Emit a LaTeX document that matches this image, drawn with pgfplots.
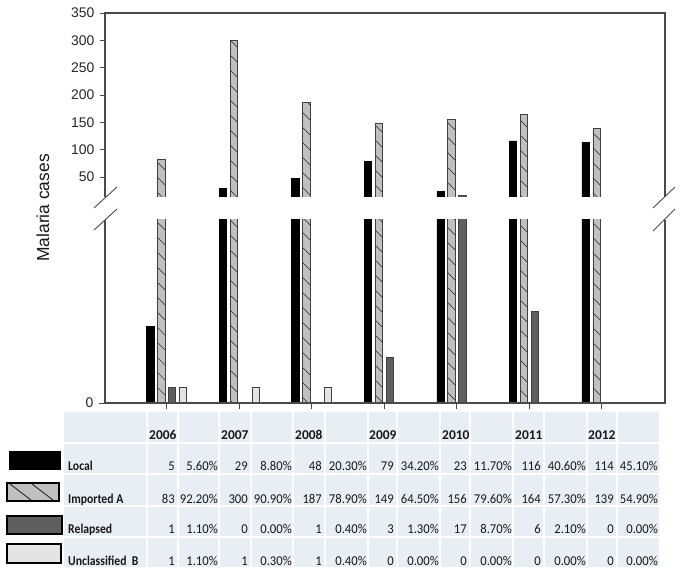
\documentclass[border=0pt]{standalone}
\usepackage{fontspec}
\setmainfont{Liberation Sans}
\newfontfamily\carlito{Carlito}
\usepackage{pgfplots}
\pgfplotsset{compat=1.18}
\usetikzlibrary{patterns}
\pgfdeclarepatternformonly{sparsenw}{\pgfqpoint{-1bp}{-1bp}}{\pgfqpoint{16bp}{16bp}}{\pgfqpoint{15bp}{15bp}}{\pgfsetlinewidth{0.7bp}\pgfpathmoveto{\pgfqpoint{0bp}{15bp}}\pgfpathlineto{\pgfqpoint{15bp}{0bp}}\pgfusepath{stroke}}
\definecolor{impfill}{HTML}{C0C0C0}
\definecolor{relfill}{HTML}{5F5F5F}
\definecolor{uncfill}{HTML}{E4E4E4}
\definecolor{axisc}{HTML}{4A4A4A}
\definecolor{tblbg}{HTML}{E9EDF4}
\pgfplotsset{
  mybars/.style={scale only axis, width=560bp, xmin=-0.85, xmax=6.87,
    ybar, bar width=0.1, axis line style={draw=none},
    tick style={axisc, line width=0.8bp}, tick align=outside, major tick length=5bp,
    /pgf/number format/assume math mode=true,
    tick label style={font=\fontsize{14}{16}\selectfont, text=black!85},
    yticklabel style={xshift=-2bp},
    anchor=south west},
  loc/.style={fill=black, draw=black, line width=0.6bp, bar shift=-0.225},
  imp/.style={fill=impfill, draw=black!75, line width=0.6bp, bar shift=-0.075, postaction={pattern=sparsenw, pattern color=black!75}},
  rel/.style={fill=relfill, draw=black!75, line width=0.6bp, bar shift=0.075},
  unc/.style={fill=uncfill, draw=black!75, line width=0.6bp, bar shift=0.225},
}
% values as drawn in the chart (the 2008 relapsed bar is not drawn there)
\pgfplotstableread{
x local imported relapsed unclassified
0 5 83 1 1
1 29 300 0 1
2 48 187 0 1
3 79 149 3 0
4 23 156 17 0
5 116 164 6 0
6 114 139 0 0
}\cases
\newcommand{\num}[1]{\scalebox{0.94}[1]{#1}}
\newcommand{\lab}[1]{\scalebox{0.87}[1]{#1}}
\begin{document}
\begin{tikzpicture}
\useasboundingbox (0,0) rectangle (683bp,575bp);
% upper axis
\begin{axis}[mybars, at={(105bp,378bp)}, height=184bp, ymin=13.4, ymax=350,
  ytick={50,100,...,350}, xtick=\empty, ytick pos=left,
  y filter/.expression={y<13.4 ? nan : y}, unbounded coords=discard]
\addplot[loc] table[x=x,y=local]{\cases};
\addplot[imp] table[x=x,y=imported]{\cases};
\addplot[rel] table[x=x,y=relapsed]{\cases};
\addplot[unc] table[x=x,y=unclassified]{\cases};
\end{axis}
% lower axis
\begin{axis}[mybars, at={(105bp,172bp)}, height=183bp, ymin=0, ymax=12,
  ytick={0}, xtick={0,...,6}, xticklabels={}, xtick pos=left, ytick pos=left,
  major tick length=6bp, y filter/.expression={y==0 ? nan : y}, unbounded coords=discard]
\addplot[loc] table[x=x,y=local]{\cases};
\addplot[imp] table[x=x,y=imported]{\cases};
\addplot[rel] table[x=x,y=relapsed]{\cases};
\addplot[unc] table[x=x,y=unclassified]{\cases};
\end{axis}
\begin{scope}[x=1bp,y=1bp]
% frames
\draw[axisc, line width=1.1bp] (105,378) -- (105,562) -- (665,562) -- (665,378);
\draw[axisc, line width=1.1bp] (105,355) -- (105,172) -- (665,172) -- (665,355);
% break marks
\draw[axisc, line width=0.9bp] (94,367) -- (117,388);
\draw[axisc, line width=0.9bp] (94,345) -- (117,366);
\draw[axisc, line width=0.9bp] (653,367) -- (675,388);
\draw[axisc, line width=0.9bp] (653,344) -- (675,366);
% y label
\node[rotate=90, font=\fontsize{17.5}{20}\selectfont, text=black!90] at (43,367) {Malaria cases};
% legend swatches
\filldraw[fill=black, draw=black, line width=1.3bp] (10,106) rectangle (60,123);
\filldraw[fill=impfill, draw=black, line width=1.3bp] (7,74) rectangle (59,92);
\begin{scope}
\clip (7,74) rectangle (59,92);
\draw[black!80, line width=1bp] (10,91) -- (31,75);
\draw[black!80, line width=1bp] (32,91) -- (53,75);
\end{scope}
\filldraw[fill=relfill, draw=black, line width=1.3bp] (7,41) rectangle (62,59);
\filldraw[fill=uncfill, draw=black, line width=1.3bp] (7,12) rectangle (61,31);
% table
\fill[tblbg] (64,8) rectangle (659,163);
\foreach \x in {147,178,219,251,293,325,368,397,440,470,513,544,587,617}
  \draw[white, line width=1.5bp] (\x,8) -- (\x,163);
\foreach \y in {132,101,69,38}
  \draw[white, line width=1.5bp] (64,\y) -- (659,\y);
\begin{scope}[every node/.style={inner sep=0pt, font=\carlito\fontsize{13.5}{15}\selectfont, text=black!90}]
\foreach \xl/\yr in {149/2006,221/2007,295/2008,369/2009,442/2010,515/2011,588/2012}
  \node[anchor=base west, font=\carlito\bfseries\fontsize{13.5}{15}\selectfont] at (\xl,136) {\yr};
\node[anchor=base west, font=\carlito\bfseries\fontsize{13.5}{15}\selectfont] at (68,105) {\lab{Local}};
\node[anchor=base west, font=\carlito\bfseries\fontsize{13.5}{15}\selectfont] at (68,72) {\lab{Imported A}};
\node[anchor=base west, font=\carlito\bfseries\fontsize{13.5}{15}\selectfont] at (68,42) {\lab{Relapsed}};
\node[anchor=base west, font=\carlito\bfseries\fontsize{13.5}{15}\selectfont] at (68,10) {\lab{Unclassified\ \ B}};
\foreach \nr/\pr/\n/\p in {178/219/5/5.60,251/293/29/8.80,325/368/48/20.30,397/440/79/34.20,470/513/23/11.70,544/587/116/40.60,617/659/114/45.10}
  {\node[anchor=base east] at (\nr-3,105) {\num{\n}}; \node[anchor=base east] at (\pr-1,105) {\num{\p\%}};}
\foreach \nr/\pr/\n/\p in {178/219/83/92.20,251/293/300/90.90,325/368/187/78.90,397/440/149/64.50,470/513/156/79.60,544/587/164/57.30,617/659/139/54.90}
  {\node[anchor=base east] at (\nr-3,72) {\num{\n}}; \node[anchor=base east] at (\pr-1,72) {\num{\p\%}};}
\foreach \nr/\pr/\n/\p in {178/219/1/1.10,251/293/0/0.00,325/368/1/0.40,397/440/3/1.30,470/513/17/8.70,544/587/6/2.10,617/659/0/0.00}
  {\node[anchor=base east] at (\nr-3,42) {\num{\n}}; \node[anchor=base east] at (\pr-1,42) {\num{\p\%}};}
\foreach \nr/\pr/\n/\p in {178/219/1/1.10,251/293/1/0.30,325/368/1/0.40,397/440/0/0.00,470/513/0/0.00,544/587/0/0.00,617/659/0/0.00}
  {\node[anchor=base east] at (\nr-3,10) {\num{\n}}; \node[anchor=base east] at (\pr-1,10) {\num{\p\%}};}
\end{scope}
\end{scope}
\end{tikzpicture}
\end{document}
